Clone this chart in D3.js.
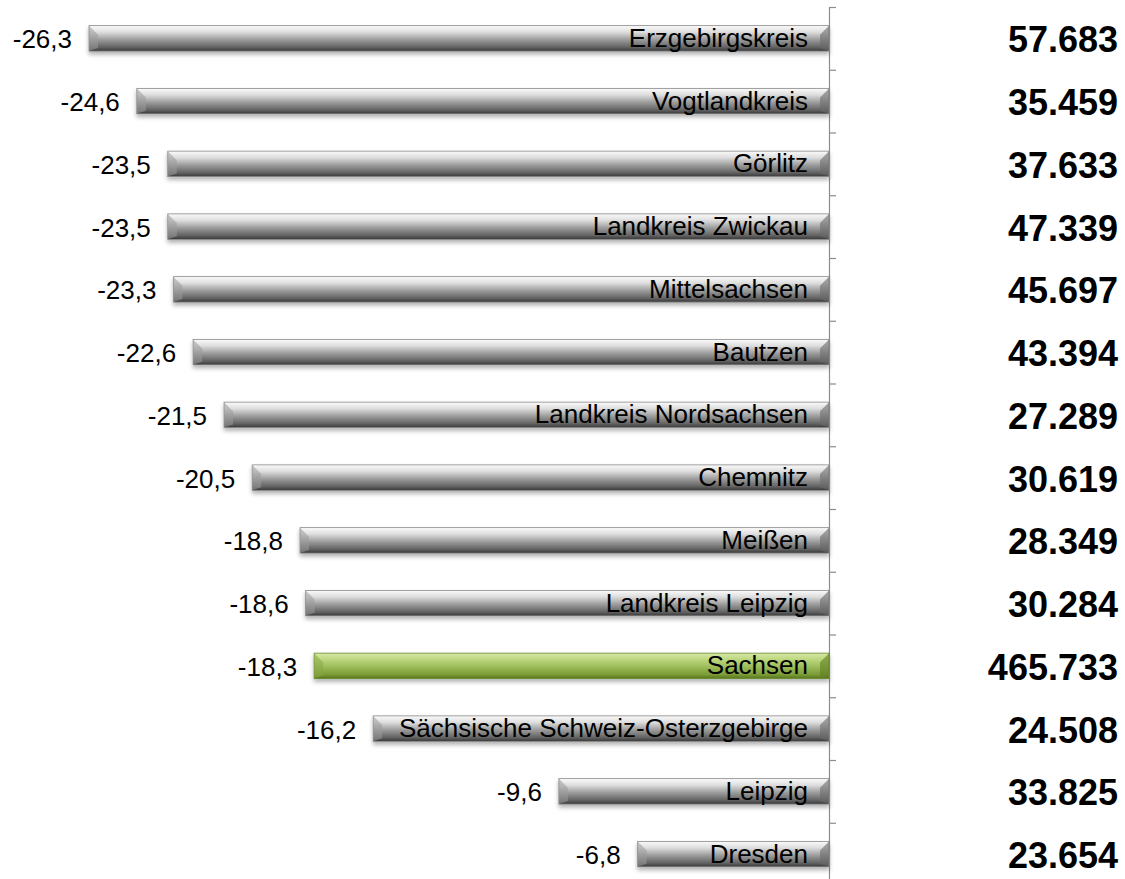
<!DOCTYPE html>
<html>
<head>
<meta charset="utf-8">
<script src="https://cdn.jsdelivr.net/npm/d3@7"></script>
<style>
  html, body { margin: 0; padding: 0; background: #fff; }
  svg { display: block; font-family: "Liberation Sans", Arial, sans-serif; }
</style>
</head>
<body>
<div id="chart"></div>
<script>
// Kreise in Sachsen: Veränderung in % (Balken) und absolute Zahl (rechts)
const regions = [
  "Erzgebirgskreis", "Vogtlandkreis", "Görlitz", "Landkreis Zwickau",
  "Mittelsachsen", "Bautzen", "Landkreis Nordsachsen", "Chemnitz",
  "Meißen", "Landkreis Leipzig", "Sachsen", "Sächsische Schweiz-Osterzgebirge",
  "Leipzig", "Dresden"
];
const changes = [-26.3, -24.6, -23.5, -23.5, -23.3, -22.6, -21.5, -20.5, -18.8, -18.6, -18.3, -16.2, -9.6, -6.8];
const totals = ["57.683", "35.459", "37.633", "47.339", "45.697", "43.394", "27.289",
  "30.619", "28.349", "30.284", "465.733", "24.508", "33.825", "23.654"];
const highlight = "Sachsen";

const width = 1125, height = 879;
const axisX = 829, topY = 7, step = 62.75;

const svg = d3.select("#chart").append("svg")
  .attr("width", width)
  .attr("height", height);

const defs = svg.append("defs");

const grads = {
  gray: ["#fbfbfb", "#dedede", "#9c9c9c", "#626262", "#383838"],
  green: ["#d6e9a6", "#bdd77f", "#9bbb59", "#7a9a34", "#55731c"]
};
Object.entries(grads).forEach(([name, stops]) => {
  const g = defs.append("linearGradient")
    .attr("id", "grad-" + name)
    .attr("x1", 0).attr("y1", 0).attr("x2", 0).attr("y2", 1);
  [0, 0.25, 0.55, 0.85, 1].forEach((o, i) => {
    g.append("stop").attr("offset", o).attr("stop-color", stops[i]);
  });
});

const shadow = defs.append("filter").attr("id", "shadow")
  .attr("x", "-5%").attr("y", "-30%").attr("width", "110%").attr("height", "180%");
shadow.append("feDropShadow")
  .attr("dx", 0).attr("dy", 3).attr("stdDeviation", 2)
  .attr("flood-color", "#000").attr("flood-opacity", 0.3);

const n = regions.length;
const y = d3.scaleBand()
  .domain(regions)
  .range([topY, topY + n * step])
  .paddingInner(0.594)
  .paddingOuter(0.297);

const x = d3.scaleLinear()
  .domain([-26.3, 0])
  .range([89, axisX]);

const data = regions.map((name, i) => ({ name, change: changes[i], total: totals[i] }));

// Achse mit Strichen an den Kategoriegrenzen
const boundary = d3.scaleLinear().domain([0, n]).range([topY, topY + n * step]);
svg.append("g")
  .attr("transform", `translate(${axisX},0)`)
  .call(d3.axisRight(boundary).tickValues(d3.range(0, n + 1)).tickFormat("").tickSize(7).tickSizeOuter(0))
  .call(g => g.selectAll("path, line").attr("stroke", "#8c8c8c").attr("stroke-width", 1.2));

const bars = svg.append("g").selectAll("g.bar")
  .data(data)
  .enter()
  .append("g")
  .attr("class", "bar");

const bh = y.bandwidth();
const bevel = 9;

bars.append("rect")
  .attr("x", d => x(d.change))
  .attr("y", d => y(d.name))
  .attr("width", d => x(0) - x(d.change))
  .attr("height", bh)
  .attr("fill", d => d.name === highlight ? "url(#grad-green)" : "url(#grad-gray)")
  .attr("stroke", d => d.name === highlight ? "#6b8a2c" : "#8a8a8a")
  .attr("stroke-width", 0.8)
  .attr("filter", "url(#shadow)");

// linke Fase (heller Keil)
bars.append("path")
  .attr("d", d => {
    const x0 = x(d.change), y0 = y(d.name);
    return `M${x0},${y0}L${x0 + bevel},${y0 + bevel}L${x0 + bevel},${y0 + bh - 3}L${x0},${y0 + bh}Z`;
  })
  .attr("fill", d => d.name === highlight ? "#89a844" : "#9a9a9a")
  .attr("opacity", 0.55);

// rechte Fase (dunkler Keil)
bars.append("path")
  .attr("d", d => {
    const x1 = x(0), y0 = y(d.name);
    return `M${x1},${y0}L${x1 - bevel},${y0 + bevel}L${x1 - bevel},${y0 + bh - 3}L${x1},${y0 + bh}Z`;
  })
  .attr("fill", d => d.name === highlight ? "#5f7d22" : "#6a6a6a")
  .attr("opacity", 0.6);

// Kategorienamen im Balken
bars.append("text")
  .attr("x", axisX - 21)
  .attr("y", d => y(d.name) + bh / 2 + 8.5)
  .attr("text-anchor", "end")
  .attr("font-size", 26)
  .attr("fill", "#000")
  .text(d => d.name);

// Prozentwerte links
bars.append("text")
  .attr("x", d => x(d.change) - 17)
  .attr("y", d => y(d.name) + bh / 2 + 10)
  .attr("text-anchor", "end")
  .attr("font-size", 26)
  .attr("fill", "#000")
  .text(d => d3.format(".1f")(d.change).replace(".", ",").replace("−", "-"));

// absolute Werte rechts
bars.append("text")
  .attr("x", 1118)
  .attr("y", d => y(d.name) + bh / 2 + 14)
  .attr("text-anchor", "end")
  .attr("font-size", 36)
  .attr("font-weight", "bold")
  .attr("fill", "#000")
  .text(d => d.total);
</script>
</body>
</html>
